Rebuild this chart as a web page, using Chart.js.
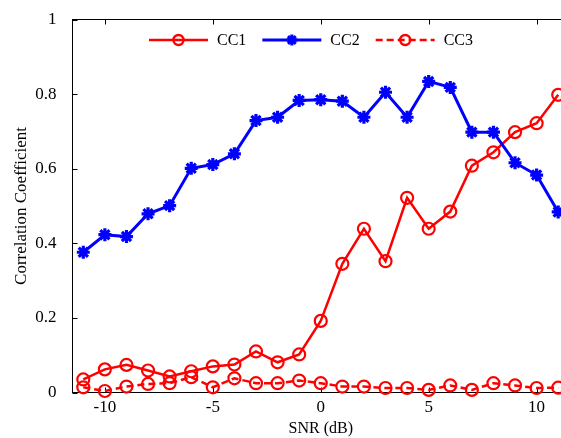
<!DOCTYPE html>
<html>
<head>
<meta charset="utf-8">
<script src="https://cdn.jsdelivr.net/npm/chart.js@4.4.1/dist/chart.umd.min.js"></script>
<style>
  html, body { margin: 0; padding: 0; background: #fff; overflow: hidden; }
  #wrap { width: 580px; height: 438px; }
</style>
</head>
<body>
<div id="wrap"><canvas id="chart" width="580" height="438"></canvas></div>
<script>
// values
const snr = [-11, -10, -9, -8, -7, -6, -5, -4, -3, -2, -1, 0, 1, 2, 3, 4, 5, 6, 7, 8, 9, 10, 11];
const cc1 = [0.035, 0.062, 0.074, 0.059, 0.043, 0.057, 0.070, 0.075, 0.110, 0.081, 0.102, 0.192,
             0.345, 0.439, 0.352, 0.522, 0.439, 0.485, 0.608, 0.644, 0.698, 0.722, 0.798];
const cc2 = [0.376, 0.423, 0.418, 0.479, 0.501, 0.601, 0.611, 0.640, 0.729, 0.738, 0.783, 0.785,
             0.781, 0.738, 0.805, 0.738, 0.834, 0.818, 0.698, 0.698, 0.616, 0.583, 0.484];
const cc3 = [0.014, 0.004, 0.016, 0.023, 0.025, 0.041, 0.014, 0.038, 0.025, 0.025, 0.032, 0.025,
             0.016, 0.016, 0.012, 0.012, 0.007, 0.019, 0.007, 0.025, 0.019, 0.012, 0.013];
const xTicks = [-10, -5, 0, 5, 10];
const yTicks = [0, 0.2, 0.4, 0.6, 0.8, 1];

const FONT = "'Liberation Serif', 'Times New Roman', serif";
const RED = "#ff0000";
const BLUE = "#0000ff";

const pairs = (ys) => snr.map((x, i) => ({ x, y: ys[i] }));

// box + inward ticks, like the original plot
const boxPlugin = {
  id: "boxPlugin",
  beforeDatasetsDraw(chart) {
    const { ctx, chartArea: a, scales } = chart;
    ctx.save();
    ctx.strokeStyle = "#000";
    ctx.lineWidth = 1;
    ctx.strokeRect(a.left, a.top, a.right - a.left, a.bottom - a.top);
    ctx.beginPath();
    xTicks.forEach((v) => {
      const px = Math.round(scales.x.getPixelForValue(v)) + 0.5;
      ctx.moveTo(px, a.bottom); ctx.lineTo(px, a.bottom - 5);
      ctx.moveTo(px, a.top); ctx.lineTo(px, a.top + 5);
    });
    yTicks.forEach((v) => {
      const py = Math.round(scales.y.getPixelForValue(v)) + 0.5;
      ctx.moveTo(a.left, py); ctx.lineTo(a.left + 5, py);
      ctx.moveTo(a.right, py); ctx.lineTo(a.right - 5, py);
    });
    ctx.stroke();
    ctx.restore();
  },
};

// line-sample legend inside the top of the axes
const legendPlugin = {
  id: "lineLegend",
  afterDraw(chart) {
    const { ctx } = chart;
    const y = 40;
    let x = 149;
    ctx.save();
    ctx.font = "16px " + FONT;
    ctx.textBaseline = "middle";
    ctx.fillStyle = "#000";
    chart.data.datasets.forEach((ds) => {
      ctx.save();
      ctx.strokeStyle = ds.borderColor;
      ctx.lineWidth = ds.borderWidth;
      ctx.setLineDash(ds.borderDash || []);
      ctx.beginPath();
      ctx.moveTo(x, y);
      ctx.lineTo(x + 59, y);
      ctx.stroke();
      ctx.setLineDash([]);
      ctx.strokeStyle = ds.pointBorderColor;
      ctx.fillStyle = ds.pointBackgroundColor;
      Chart.helpers.drawPoint(ctx, {
        pointStyle: ds.pointStyle,
        radius: ds.pointRadius - 1,
        borderWidth: ds.pointBorderWidth,
        rotation: 0,
      }, x + 29.5, y);
      ctx.restore();
      ctx.fillText(ds.label, x + 68, y + 1);
      x += 68 + ctx.measureText(ds.label).width + 16;
    });
    ctx.restore();
  },
};

new Chart(document.getElementById("chart"), {
  type: "line",
  data: {
    datasets: [
      {
        label: "CC1",
        data: pairs(cc1),
        borderColor: RED,
        borderWidth: 2.5,
        pointStyle: "circle",
        pointRadius: 6,
        pointBorderWidth: 2.2,
        pointBorderColor: RED,
        pointBackgroundColor: "rgba(0,0,0,0)",
        order: 2,
      },
      {
        label: "CC2",
        data: pairs(cc2),
        borderColor: BLUE,
        borderWidth: 3,
        pointStyle: "star",
        pointRadius: 6.5,
        pointBorderWidth: 3.2,
        pointBorderColor: BLUE,
        pointBackgroundColor: BLUE,
        order: 1,
      },
      {
        label: "CC3",
        data: pairs(cc3),
        borderColor: RED,
        borderWidth: 2.5,
        borderDash: [7, 4],
        pointStyle: "circle",
        pointRadius: 6,
        pointBorderWidth: 2.2,
        pointBorderColor: RED,
        pointBackgroundColor: "rgba(0,0,0,0)",
        order: 0,
      },
    ],
  },
  options: {
    responsive: false,
    animation: false,
    clip: false,
    events: [],
    layout: { padding: { left: 0, top: 19.5, right: 11, bottom: 0 } },
    plugins: {
      legend: { display: false },
      tooltip: { enabled: false },
    },
    scales: {
      x: {
        type: "linear",
        min: -11.5,
        max: 11.5,
        afterBuildTicks: (s) => { s.ticks = xTicks.map((v) => ({ value: v })); },
        afterFit: (s) => { s.height = 45.5; },
        grid: { display: false },
        border: { display: false },
        ticks: {
          color: "#000",
          padding: -3,
          maxRotation: 0,
          callback: (v) => String(v),
          font: { family: FONT, size: 17 },
        },
        title: {
          display: true,
          text: "SNR (dB)",
          color: "#000",
          padding: { top: 0, bottom: 0 },
          font: { family: FONT, size: 16 },
        },
      },
      y: {
        min: 0,
        max: 1,
        afterBuildTicks: (s) => { s.ticks = yTicks.map((v) => ({ value: v })); },
        afterFit: (s) => { s.width = 72.5; },
        grid: { display: false },
        border: { display: false },
        ticks: {
          color: "#000",
          padding: 8,
          callback: (v) => String(v),
          font: { family: FONT, size: 17 },
        },
        title: {
          display: true,
          text: "Correlation Coefficient",
          color: "#000",
          padding: { top: 11, bottom: 0 },
          font: { family: FONT, size: 17 },
        },
      },
    },
  },
  plugins: [boxPlugin, legendPlugin],
});
</script>
</body>
</html>
